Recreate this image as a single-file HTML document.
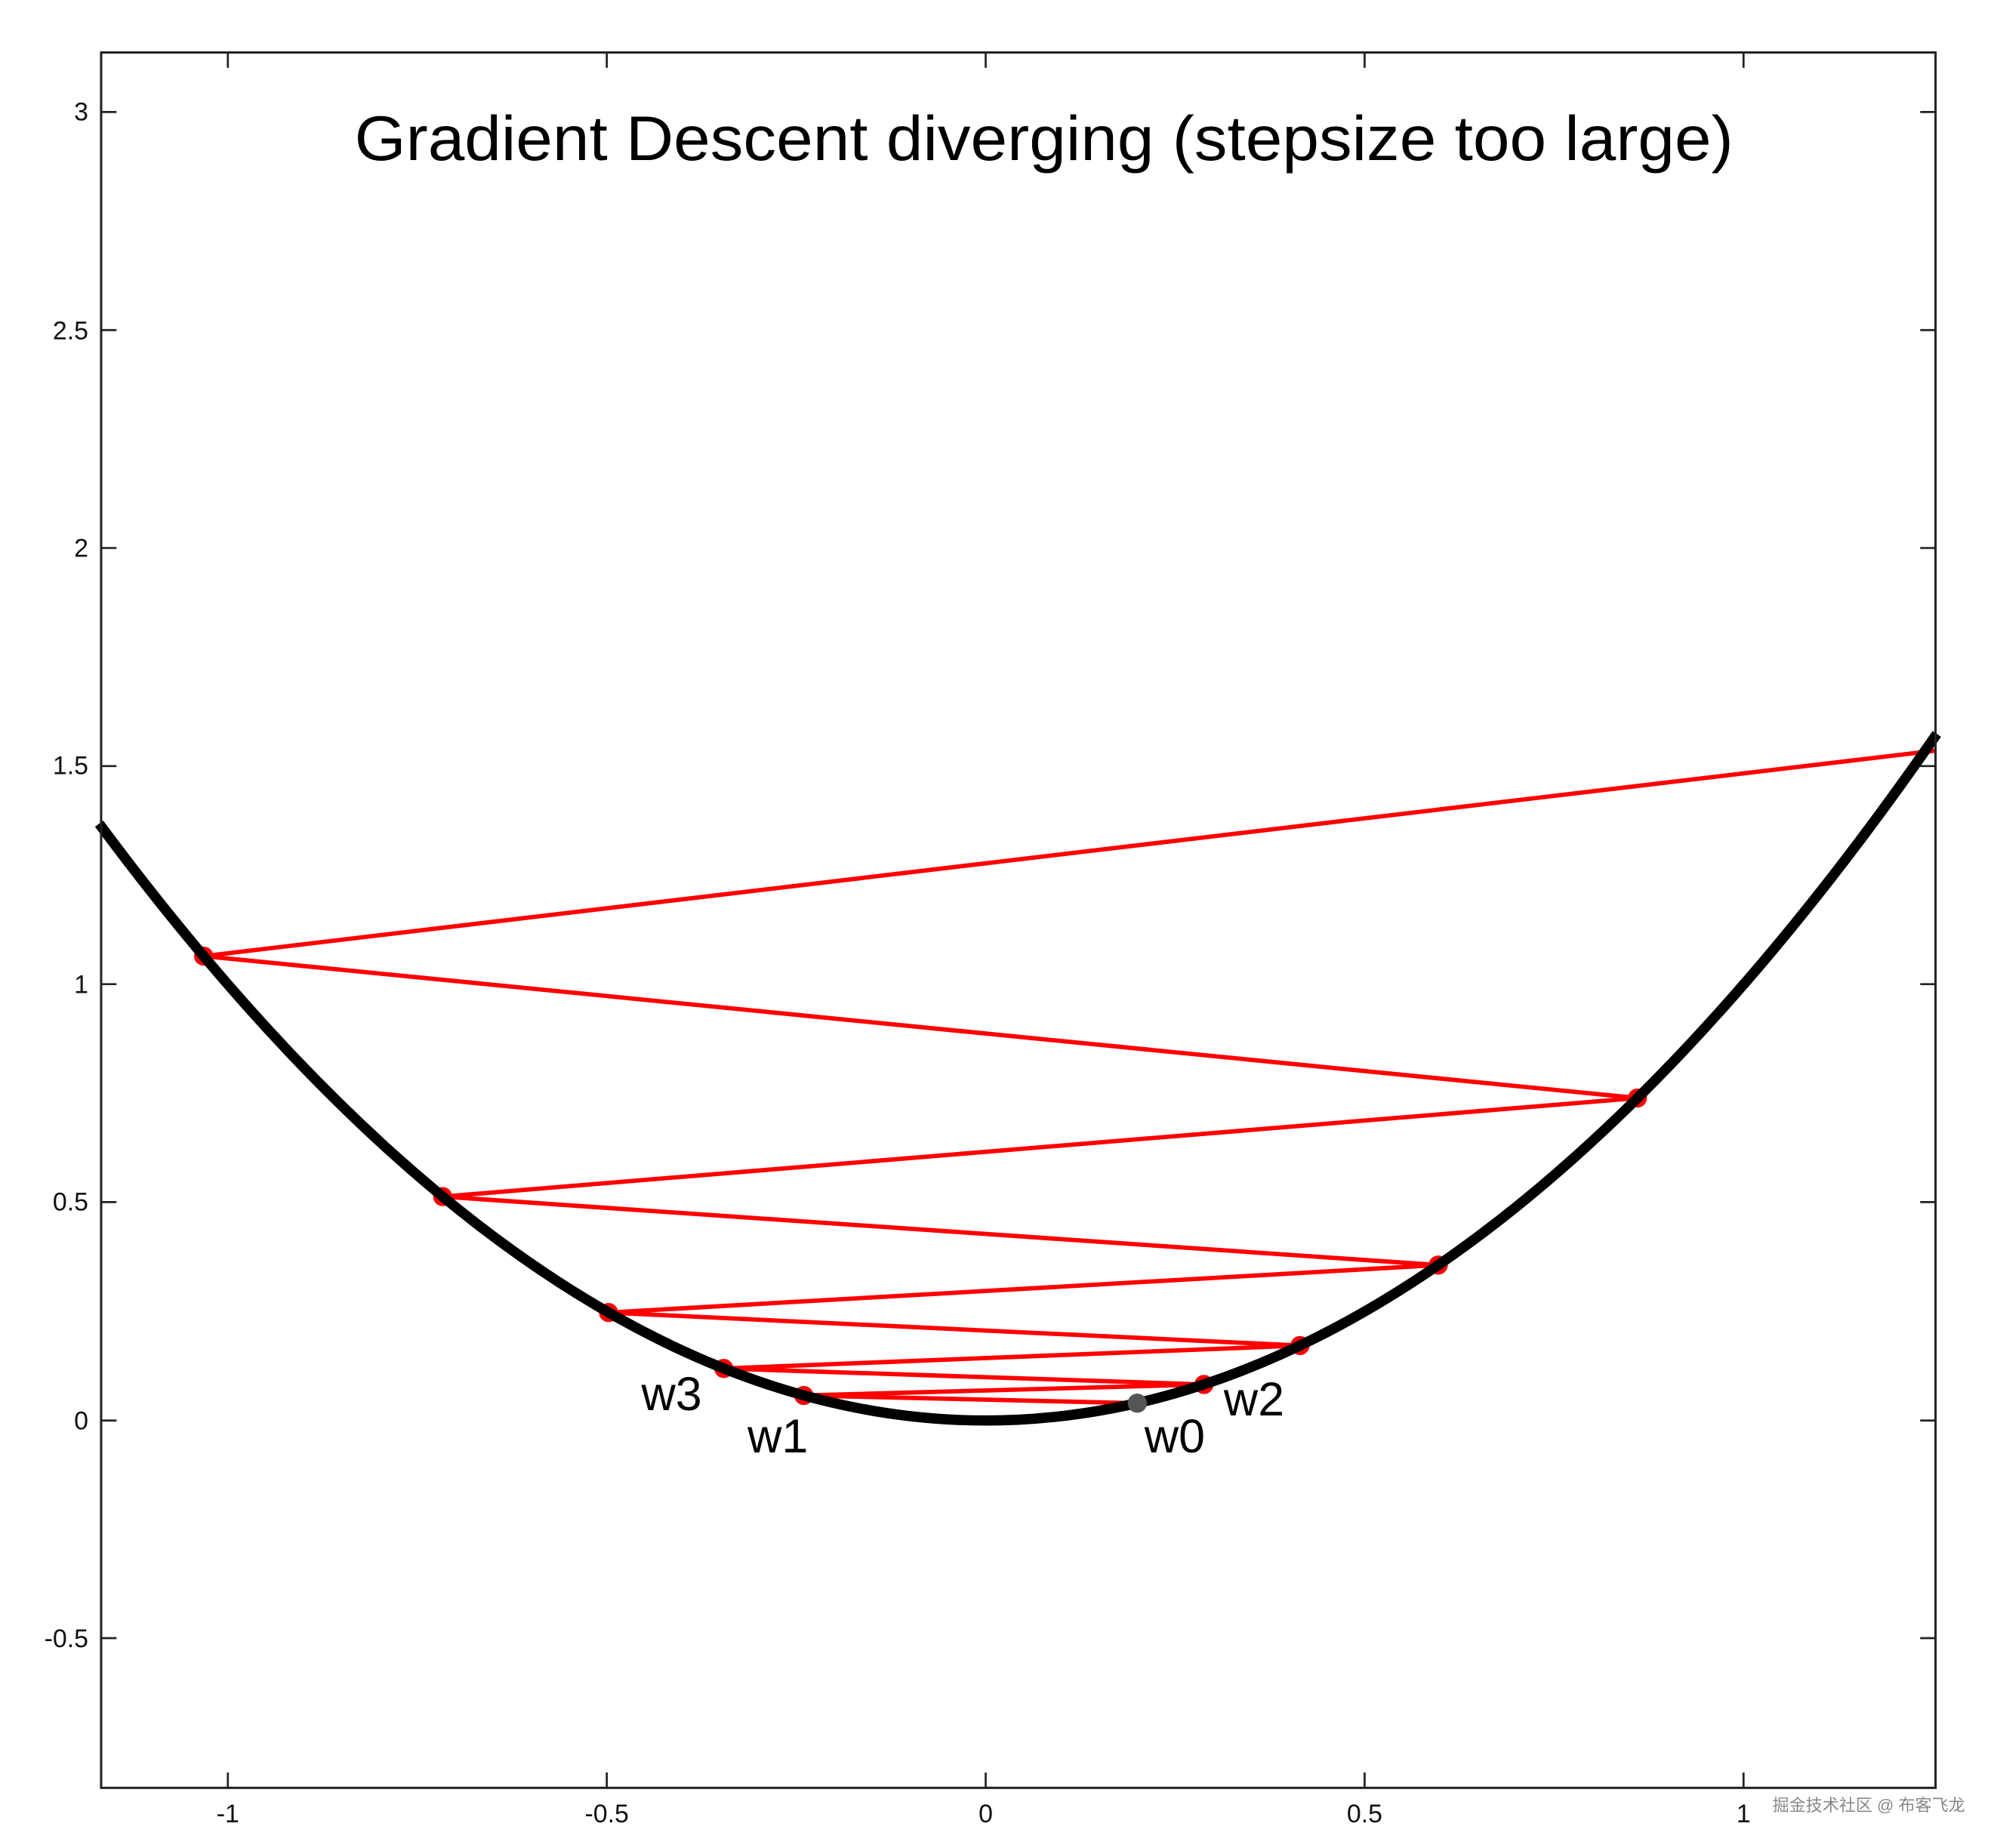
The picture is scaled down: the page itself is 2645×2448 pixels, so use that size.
<!DOCTYPE html>
<html><head><meta charset="utf-8"><style>html,body{margin:0;padding:0;background:#fff}svg{display:block}</style></head>
<body>
<svg width="2645" height="2448" viewBox="0 0 1560 1444" preserveAspectRatio="none" xmlns="http://www.w3.org/2000/svg">
<rect width="1560" height="1444" fill="#fff"/>
<defs><clipPath id="c"><rect x="70" y="41" width="1448" height="1356"/></clipPath></defs>
<g clip-path="url(#c)">
<polyline fill="none" stroke="#ff0000" stroke-width="3.4" stroke-linejoin="round" points="888.4,1096.4 627.9,1090.4 940.5,1081.8 565.4,1069.3 1015.5,1051.4 475.4,1025.6 1123.5,988.5 345.8,935.0 1279.1,858.0 159.1,747.1 1512,586.5"/>
<g fill="#ff0000" stroke="#ee1111" stroke-width="1">
<circle cx="627.9" cy="1090.4" r="7"/><circle cx="940.5" cy="1081.8" r="7"/><circle cx="565.4" cy="1069.3" r="7"/><circle cx="1015.5" cy="1051.4" r="7"/><circle cx="475.4" cy="1025.6" r="7"/><circle cx="1123.5" cy="988.5" r="7"/><circle cx="345.8" cy="935.0" r="7"/><circle cx="1279.1" cy="858.0" r="7"/><circle cx="159.1" cy="747.1" r="7"/>
</g>
<path d="M77.4,643.6 Q795.2,1610.2 1513,573.4" fill="none" stroke="#000" stroke-width="8"/>
<circle cx="888.4" cy="1096.4" r="7.5" fill="#555"/>
</g>
<rect x="79" y="41" width="1433" height="1356" fill="none" stroke="#222" stroke-width="1.8"/>
<g stroke="#222" stroke-width="1.6">
<path d="M178,1397v-12M474,1397v-12M770,1397v-12M1066,1397v-12M1362,1397v-12M178,41v12M474,41v12M770,41v12M1066,41v12M1362,41v12"/>
<path d="M79,1280h12M79,1110h12M79,939.3h12M79,769h12M79,598.6h12M79,428.2h12M79,257.9h12M79,87.5h12M1512,1280h-12M1512,1110h-12M1512,939.3h-12M1512,769h-12M1512,598.6h-12M1512,428.2h-12M1512,257.9h-12M1512,87.5h-12"/>
</g>
<g font-family="Liberation Sans, sans-serif" font-size="20" fill="#111" text-anchor="end">
<text x="69" y="1287">-0.5</text><text x="69" y="1117">0</text><text x="69" y="946">0.5</text><text x="69" y="776">1</text><text x="69" y="605">1.5</text><text x="69" y="435">2</text><text x="69" y="265">2.5</text><text x="69" y="94">3</text>
</g>
<g font-family="Liberation Sans, sans-serif" font-size="20" fill="#111" text-anchor="middle">
<text x="178" y="1424">-1</text><text x="474" y="1424">-0.5</text><text x="770" y="1424">0</text><text x="1066" y="1424">0.5</text><text x="1362" y="1424">1</text>
</g>
<text x="277" y="125" font-family="Liberation Sans, sans-serif" font-size="49" textLength="1077" lengthAdjust="spacingAndGlyphs" fill="#000">Gradient Descent diverging (stepsize too large)</text>
<g font-family="Liberation Sans, sans-serif" font-size="37" fill="#000">
<text x="501" y="1102">w3</text><text x="584" y="1135">w1</text><text x="894" y="1135">w0</text><text x="956" y="1106">w2</text>
</g>
<text x="1535" y="1415" font-family="Liberation Sans, 'Noto Sans CJK SC', sans-serif" font-size="13" text-anchor="end" fill="#888">掘金技术社区 @ 布客飞龙</text>
</svg>
</body></html>
